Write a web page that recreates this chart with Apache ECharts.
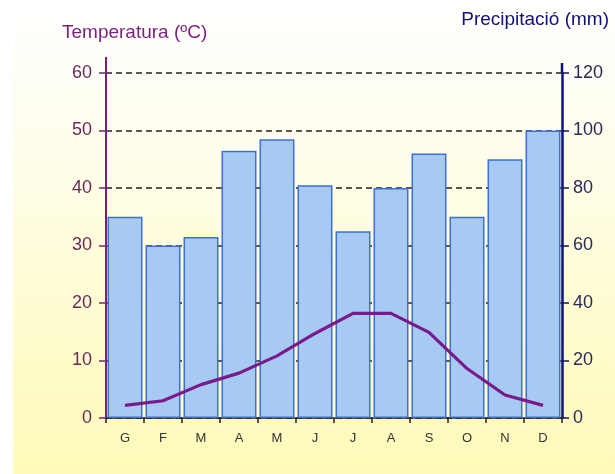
<!DOCTYPE html>
<html>
<head>
<meta charset="utf-8">
<script src="https://cdn.jsdelivr.net/npm/echarts@6/dist/echarts.min.js"></script>
<style>
  html, body { margin: 0; padding: 0; background: #fff; }
  #chart { width: 615px; height: 474px; }
</style>
</head>
<body>
<div id="chart"></div>
<script>
// mesos (català)
const months = ['G', 'F', 'M', 'A', 'M', 'J', 'J', 'A', 'S', 'O', 'N', 'D'];
// precipitació mensual (mm)
const precip = [70, 60, 63, 93, 97, 81, 65, 80, 92, 70, 90, 100];
// temperatura mitjana (ºC)
const temp = [2.2, 3.0, 5.8, 7.8, 10.8, 14.7, 18.2, 18.2, 14.9, 8.6, 4.0, 2.2];

const purple = '#7b1f7e';
const navy = '#10107a';
const font = 'Liberation Sans';

const chart = echarts.init(document.getElementById('chart'), null, { renderer: 'canvas' });

const option = {
  backgroundColor: '#ffffff',
  animation: false,
  textStyle: { fontFamily: font },
  grid: { left: 106, right: 53, top: 73, bottom: 56 },
  graphic: [
    {
      id: 'fons',
      type: 'rect',
      z: -10,
      silent: true,
      shape: { x: 13, y: 0, width: 602, height: 474 },
      style: {
        fill: new echarts.graphic.LinearGradient(0, 0, 0, 1, [
          { offset: 0, color: '#ffffff' },
          { offset: 0.25, color: '#fffef0' },
          { offset: 1, color: '#fffab8' }
        ])
      }
    },
    {
      id: 'titolT',
      type: 'text', left: 62, top: 23,
      style: { text: 'Temperatura (ºC)', fill: purple, font: '19px "Liberation Sans"' }
    },
    {
      id: 'titolP',
      type: 'text', right: 6, top: 10,
      style: { text: 'Precipitació (mm)', fill: navy, font: '19px "Liberation Sans"' }
    }
  ],
  xAxis: {
    type: 'category',
    data: months,
    axisLine: { lineStyle: { color: '#222', width: 1.5 } },
    axisTick: { show: true, alignWithLabel: false, length: 5, lineStyle: { color: '#222', width: 1.5 } },
    axisLabel: { color: '#333', fontSize: 13, margin: 14 },
    splitLine: { show: false }
  },
  yAxis: [
    {
      type: 'value',
      min: 0, max: 60, interval: 10,
      axisLine: { show: true, lineStyle: { color: purple, width: 2 } },
      axisTick: { show: true, length: 7, lineStyle: { color: purple, width: 1.5 } },
      axisLabel: { color: '#6a2a5a', fontSize: 18, margin: 14 },
      splitLine: { show: true, lineStyle: { color: '#222', type: [6, 4], width: 1.5 } }
    },
    {
      type: 'value',
      min: 0, max: 120, interval: 20,
      axisLine: { show: true, lineStyle: { color: navy, width: 2.5 } },
      axisTick: { show: true, length: 7, lineStyle: { color: navy, width: 1.5 } },
      axisLabel: { color: '#2a2a5a', fontSize: 18, margin: 11 },
      splitLine: { show: false }
    }
  ],
  series: [
    {
      name: 'Precipitació',
      type: 'bar',
      yAxisIndex: 1,
      data: precip,
      barCategoryGap: '8%',
      itemStyle: { color: '#a6caf2', borderColor: '#3d6fd6', borderWidth: 1.5 },
      z: 2
    },
    {
      name: 'Temperatura',
      type: 'line',
      yAxisIndex: 0,
      data: temp,
      symbol: 'none',
      lineStyle: { color: '#7a1a8c', width: 3.2 },
      z: 5
    }
  ]
};

chart.setOption(option);

// prolongació dels eixos per sobre del màxim
const topL = chart.convertToPixel({ yAxisIndex: 0 }, 60);
const topR = chart.convertToPixel({ yAxisIndex: 1 }, 120);
const gridRect = chart.getModel().getComponent('grid').coordinateSystem.getRect();
chart.setOption({
  graphic: [
    {
      id: 'eixE',
      type: 'line', silent: true,
      shape: { x1: gridRect.x, y1: topL, x2: gridRect.x, y2: topL - 16 },
      style: { stroke: purple, lineWidth: 2 }
    },
    {
      id: 'eixD',
      type: 'line', silent: true,
      shape: { x1: gridRect.x + gridRect.width, y1: topR, x2: gridRect.x + gridRect.width, y2: topR - 10 },
      style: { stroke: navy, lineWidth: 2.5 }
    }
  ]
});
</script>
</body>
</html>
